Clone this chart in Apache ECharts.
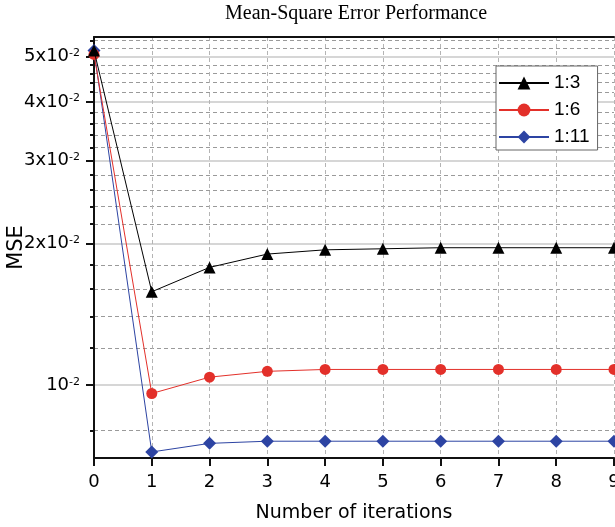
<!DOCTYPE html>
<html>
<head>
<meta charset="utf-8">
<script src="https://cdn.jsdelivr.net/npm/echarts@6/dist/echarts.min.js"></script>
<style>html,body{margin:0;padding:0;background:#fff;}</style>
</head>
<body>
<div id="main" style="width:615px;height:527px;"></div>
<script>
// data
var iterations = [0, 1, 2, 3, 4, 5, 6, 7, 8, 9];
var mse_1_3  = [0.0515, 0.0158, 0.0178, 0.0190, 0.0194, 0.0195, 0.0196, 0.0196, 0.0196, 0.0196];
var mse_1_6  = [0.0505, 0.0096, 0.0104, 0.0107, 0.0108, 0.0108, 0.0108, 0.0108, 0.0108, 0.0108];
var mse_1_11 = [0.0515, 0.00721, 0.00752, 0.0076, 0.0076, 0.0076, 0.0076, 0.0076, 0.0076, 0.0076];
var seriesNames = ['1:3', '1:6', '1:11'];
var majorTicks = [0.01, 0.02, 0.03, 0.04, 0.05];
var minorTicks = [0.008, 0.012, 0.014, 0.016, 0.018, 0.022, 0.024, 0.026, 0.028,
    0.032, 0.034, 0.036, 0.038, 0.042, 0.044, 0.046, 0.048, 0.052, 0.054];

function pairs(ys) {
    return iterations.map(function (x, i) { return [x, ys[i]]; });
}

var labelFont = 'DejaVu Sans';
var myChart = echarts.init(document.getElementById('main'));

var option = {
    backgroundColor: '#FFFFFF',
    animation: false,
    title: {
        text: 'Mean-Square Error Performance',
        left: 225,
        top: 4,
        padding: 0,
        textStyle: {fontFamily: 'Liberation Serif', fontSize: 20, fontWeight: 'normal', color: '#000'}
    },
    legend: {
        orient: 'vertical',
        left: 496,
        top: 66,
        padding: [7, 8, 3, 2],
        itemWidth: 50,
        itemHeight: 16,
        itemGap: 7,
        backgroundColor: '#fff',
        borderColor: '#666',
        borderWidth: 1,
        borderRadius: 0,
        data: seriesNames,
        textStyle: {fontFamily: 'Liberation Sans', fontSize: 19, lineHeight: 20, color: '#000'}
    },
    grid: {left: 94, right: 1, top: 37, bottom: 69, containLabel: false, outerBoundsMode: 'none'},
    xAxis: [{
        type: 'value',
        min: 0,
        max: 9,
        interval: 1,
        name: 'Number of iterations',
        nameLocation: 'middle',
        nameGap: 46,
        nameTextStyle: {fontFamily: labelFont, fontSize: 19, color: '#000'},
        axisLine: {lineStyle: {color: '#111', width: 2}},
        axisTick: {show: true, length: 8, lineStyle: {color: '#111', width: 2}},
        axisLabel: {margin: 15, fontFamily: labelFont, fontSize: 18, color: '#000'},
        splitLine: {show: true, lineStyle: {color: '#b4b4b4', width: 1, type: [4, 3]}}
    }, {
        type: 'value',
        position: 'top',
        min: 0,
        max: 9,
        interval: 1,
        axisLine: {lineStyle: {color: '#111', width: 2}},
        axisTick: {show: false},
        axisLabel: {show: false},
        splitLine: {show: false}
    }],
    yAxis: [{
        type: 'log',
        logBase: 10,
        min: 0.007,
        max: 0.055,
        name: 'MSE',
        nameLocation: 'middle',
        nameGap: 67,
        nameMoveOverlap: false,
        nameTextStyle: {fontFamily: labelFont, fontSize: 21, color: '#000'},
        axisLine: {show: true, lineStyle: {color: '#111', width: 2}},
        axisTick: {show: true, length: 8, customValues: majorTicks, lineStyle: {color: '#111', width: 2}},
        axisLabel: {
            margin: 14,
            customValues: majorTicks,
            formatter: function (v) {
                var m = Math.round(v * 100);
                return (m === 1 ? '{b|10}' : '{b|' + m + 'x10}') + '{s|-2}';
            },
            rich: {
                b: {fontFamily: labelFont, fontSize: 18, color: '#000'},
                s: {fontFamily: labelFont, fontSize: 11, color: '#000', verticalAlign: 'top'}
            }
        },
        splitLine: {show: true, lineStyle: {color: '#c8c8c8', width: 1.5}}
    }, {
        type: 'log',
        logBase: 10,
        min: 0.007,
        max: 0.055,
        position: 'left',
        axisLine: {show: false},
        axisTick: {show: true, length: 4, customValues: minorTicks, lineStyle: {color: '#111', width: 2}},
        axisLabel: {show: false},
        splitLine: {show: true, lineStyle: {color: '#9a9a9a', width: 1, type: [4, 3]}}
    }],
    series: [{
        name: seriesNames[0],
        type: 'line',
        z: 4,
        data: pairs(mse_1_3),
        symbol: 'triangle',
        symbolSize: 12,
        itemStyle: {color: '#000'},
        lineStyle: {color: '#000', width: 1}
    }, {
        name: seriesNames[1],
        type: 'line',
        z: 3,
        data: pairs(mse_1_6),
        symbol: 'circle',
        symbolSize: 11,
        itemStyle: {color: '#e3302a'},
        lineStyle: {color: '#e3302a', width: 1}
    }, {
        name: seriesNames[2],
        type: 'line',
        z: 2,
        data: pairs(mse_1_11),
        symbol: 'diamond',
        symbolSize: 13,
        itemStyle: {color: '#2d44a3'},
        lineStyle: {color: '#2d44a3', width: 1}
    }]
};

myChart.setOption(option);
</script>
</body>
</html>
